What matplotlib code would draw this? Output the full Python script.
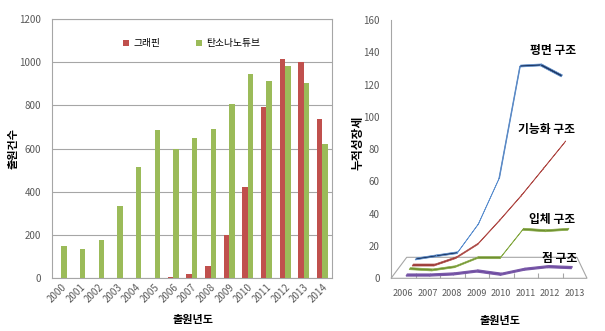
import numpy as np
import matplotlib
matplotlib.use('Agg')
import matplotlib.pyplot as plt
from matplotlib.patches import Polygon

plt.rcParams['font.family'] = ['Noto Sans CJK KR', 'DejaVu Sans']

# left chart: filings per year
years = [str(y) for y in range(2000, 2015)]
graphene = [0, 0, 0, 0, 0, 0, 3, 20, 55, 200, 420, 793, 1015, 1000, 735]
nanotube = [150, 133, 175, 333, 512, 685, 600, 648, 692, 805, 945, 915, 983, 905, 620]

# right chart: cumulative growth by structure type
growth_years = [str(y) for y in range(2006, 2014)]
point_struct = [0.4, 0.4, 1.1, 2.9, 0.9, 4.0, 5.6, 5.0]
solid_struct = [1.1, 0.3, 2.3, 7.9, 7.9, 25.5, 24.6, 25.5]
func_struct = [0.1, 0.1, 4.7, 13.2, 27.9, 43.3, 59.8, 76.4]
plane_struct = [0.6, 2.6, 4.5, 22.2, 50.6, 120.1, 120.8, 114.0]

GRID = '#a6a6a6'
TICK = '#595959'

fig = plt.figure(figsize=(6.05, 3.31), dpi=100)

# ---------------- left: grouped bars ----------------
ax = fig.add_axes([0.0860, 0.1601, 0.4623, 0.7825])
x = np.arange(len(years))
w = 0.29
ax.bar(x - w / 2, graphene, w, color='#c0504d', label='그래핀', zorder=3)
ax.bar(x + w / 2, nanotube, w, color='#9bbb59', label='탄소나노튜브', zorder=3)
ax.set_xlim(-0.5, len(years) - 0.5)
ax.set_ylim(0, 1200)
ax.set_yticks(range(0, 1201, 200))
ax.yaxis.grid(True, color=GRID, lw=0.8, zorder=0)
for s in ax.spines.values():
    s.set_color(GRID)
    s.set_linewidth(0.8)
ax.tick_params(axis='y', length=0, labelsize=7, labelcolor=TICK, pad=8)
ax.tick_params(axis='x', length=0, labelsize=7, labelcolor=TICK, pad=3)
ax.set_xticks(x)
ax.set_xticklabels(years, rotation=45, ha='right', rotation_mode='anchor')
ax.set_ylabel('출원건수', fontsize=8, fontweight='bold')
ax.yaxis.set_label_coords(-0.115, 0.5)
ax.set_xlabel('출원년도', fontsize=8, fontweight='bold')
ax.xaxis.set_label_coords(0.504, -0.137)
ax.legend(loc='center', bbox_to_anchor=(0.5, 0.907), ncol=2, frameon=False,
          fontsize=7, handlelength=0.6, handleheight=0.6, handletextpad=0.5,
          columnspacing=3.6)

# ---------------- right: pseudo-3D line chart ----------------
ax2 = fig.add_axes([0.6463, 0.1592, 0.3240, 0.7804])
ax2.set_xlim(-0.5, 7.5)
ax2.set_ylim(0, 160)
ax2.set_yticks(range(0, 161, 20))
ax2.set_xticks(range(len(growth_years)))
ax2.set_xticklabels(growth_years)
ax2.set_xticks(np.arange(0.5, 7, 1), minor=True)
ax2.tick_params(axis='y', length=0, labelsize=7, labelcolor=TICK, pad=8)
ax2.tick_params(axis='x', which='major', length=0, labelsize=6.5, labelcolor=TICK, pad=8)
ax2.tick_params(axis='x', which='minor', direction='in', length=3.5, color=GRID, width=0.8)
for side in ['top', 'right', 'bottom']:
    ax2.spines[side].set_visible(False)
ax2.spines['left'].set_color(GRID)
ax2.spines['left'].set_linewidth(0.8)
ax2.set_ylabel('누적성장세', fontsize=8.5, fontweight='bold')
ax2.yaxis.set_label_coords(-0.135, 0.524)
ax2.set_xlabel('출원년도', fontsize=8, fontweight='bold')
ax2.xaxis.set_label_coords(0.556, -0.137)

# floor of the 3D plot (perspective: back edge raised and narrowed)
BACK_Y = 13.0
BACK_L, BACK_R = 0.141, 7.09
floor = Polygon([(-0.5, 0), (7.5, 0), (BACK_R, BACK_Y), (BACK_L, BACK_Y)],
                closed=True, fill=False, edgecolor=GRID, lw=0.8, clip_on=False, zorder=2)
ax2.add_patch(floor)

# px -> data scale for the ribbon depth
p0 = ax2.transData.transform((0, 0))
p1 = ax2.transData.transform((1, 1))
ux, uy = 1.0 / (p1[0] - p0[0]), 1.0 / (p1[1] - p0[1])
DEPTH = (1.2 * ux, 2.0 * uy)


def ribbon(axis, xs, ys, face, edge, z, lw=0.5):
    dx, dy = DEPTH
    for i in range(len(xs) - 1):
        a = (xs[i] - dx / 2, ys[i] - dy / 2)
        b = (xs[i + 1] - dx / 2, ys[i + 1] - dy / 2)
        poly = Polygon([a, b, (b[0] + dx, b[1] + dy), (a[0] + dx, a[1] + dy)],
                       closed=True, facecolor=face, edgecolor=edge, lw=lw,
                       clip_on=False, zorder=z)
        axis.add_patch(poly)


series = [
    (point_struct, '#6a46a0', '#7a5aa8', 0.9),
    (solid_struct, '#6f8f30', '#86aa44', 0.5),
    (func_struct, '#963a37', '#b04a46', 0.5),
    (plane_struct, '#1f3864', '#5b8fd0', 0.5),
]
n = len(growth_years)
for k, (vals, face, edge, lw) in enumerate(series):
    first = BACK_L + 0.1224 * k
    last = 6.876 - 0.1347 * k
    xs = np.linspace(first, last, n)
    ys = np.array(vals) + (2 * k + 1) / 8 * BACK_Y
    ribbon(ax2, xs, ys, face, edge, 5 if k == 0 else 3 + k * 0.1, lw)

lab = dict(fontsize=8.5, fontweight='bold', ha='center', va='center', zorder=6)
ax2.text(6.10, 141.4, '평면 구조', **lab)
ax2.text(5.86, 91.9, '기능화 구조', **lab)
ax2.text(6.06, 36.7, '입체 구조', **lab)
ax2.text(6.37, 12.4, '점 구조', **lab)

fig.savefig('out.png', dpi=100)
